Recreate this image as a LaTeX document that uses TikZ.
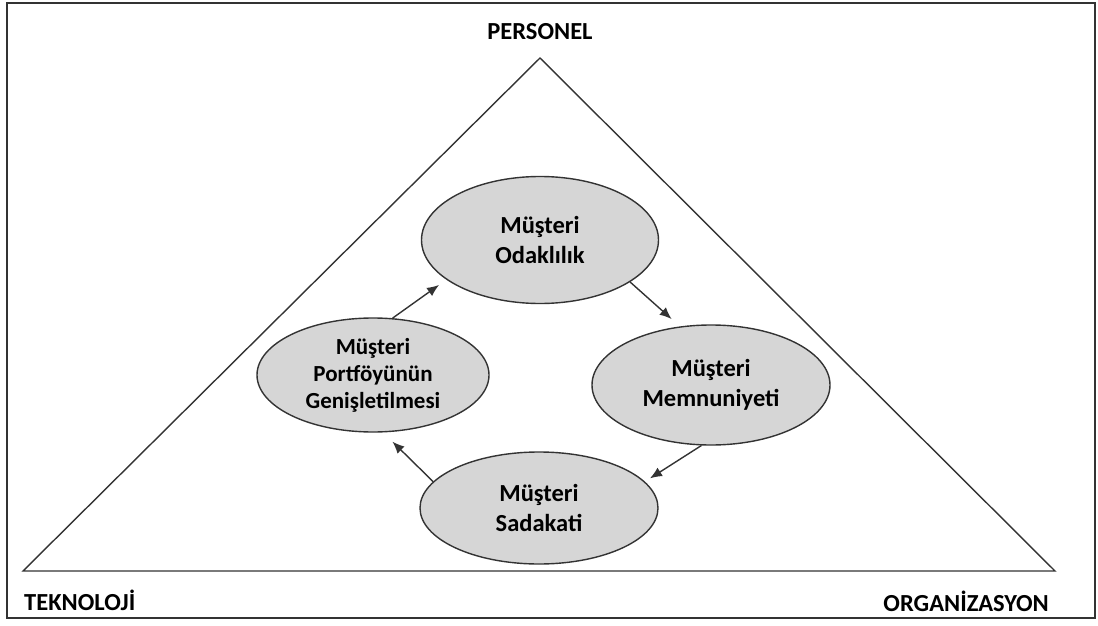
\documentclass[tikz,border=0pt]{standalone}
\usepackage{fontspec}
\setmainfont{Carlito}
\usetikzlibrary{shapes.geometric,arrows.meta}
\definecolor{edgegray}{HTML}{333333}
\definecolor{fillgray}{HTML}{D6D6D6}
\tikzset{
  oval/.style={ellipse, draw=edgegray, line width=1.4pt, fill=fillgray,
    inner sep=0pt, align=center, text=black,
    font=\fontsize{24.5}{30}\selectfont\bfseries},
  corner/.style={font=\fontsize{24.5}{28}\selectfont\bfseries, text=black, inner sep=0pt},
  flow/.style={draw=edgegray, line width=1.4pt, -{Latex[length=12pt,width=10pt]}},
}
\begin{document}
\begin{tikzpicture}[x=1pt,y=-1pt]
\useasboundingbox (0,0) rectangle (1098,626);
% outer frame
\draw[edgegray, line width=1.8pt] (7,3) rectangle (1095,618);
% triangle
\coordinate (apex) at (540,58);
\coordinate (bl) at (23,571);
\coordinate (br) at (1055,571);
\draw[edgegray, line width=1.4pt, line join=miter] (apex) -- (br) -- (bl) -- cycle;
% corner labels
\node[corner] (per) at (540,32) {PERSONEL};
\node[corner, anchor=west] (tek) at (24,600) {TEKNOLOJİ};
\node[corner, anchor=east] (org) at (1049,601) {ORGANİZASYON};
% cycle ellipses
\node[oval, minimum width=237pt, minimum height=127pt] (O) at (540,240) {Müşteri\\Odaklılık};
\node[oval, minimum width=238pt, minimum height=120pt] (M) at (711,385) {Müşteri\\Memnuniyeti};
\node[oval, minimum width=238pt, minimum height=112pt] (S) at (539,508) {Müşteri\\Sadakati};
\node[oval, minimum width=232pt, minimum height=114pt, font=\fontsize{23}{27}\selectfont\bfseries] (P) at (373,375) {Müşteri\\Portföyünün\\Genişletilmesi};
% cycle arrows
\draw[flow, shorten >=9pt] (P.71) -- (O.203);
\draw[flow, shorten >=11pt] (O.335) -- (M.118);
\draw[flow, shorten >=6pt] (M.261) -- (S.14);
\draw[flow, shorten >=13pt] (S.166) -- (P.280);
\end{tikzpicture}
\end{document}
